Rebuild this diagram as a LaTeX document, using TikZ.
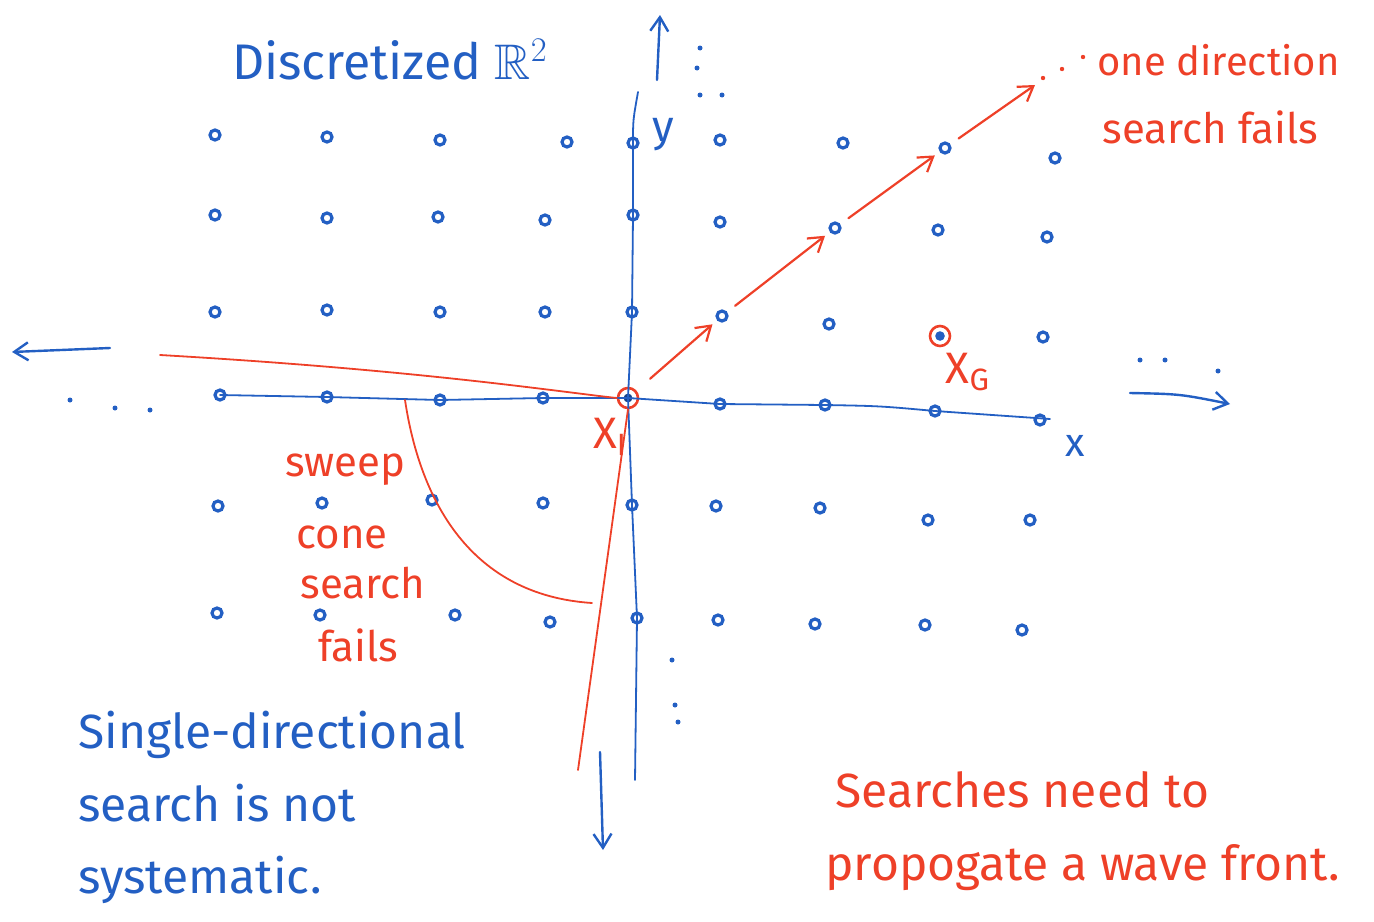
\documentclass[tikz,border=0pt]{standalone}
\usepackage{amssymb}
\usepackage{fontspec}
\setmainfont{Fira Sans}
\usetikzlibrary{arrows.meta}
\definecolor{penblue}{RGB}{35,95,195}
\definecolor{penred}{RGB}{238,64,40}

\begin{document}
\begin{tikzpicture}[x=0.5pt, y=-0.5pt, line cap=round,
    >={Straight Barb[length=7pt,width=9pt]},
    gridpt/.style = {draw=penblue, circle, line width=1.6pt, inner sep=0pt, minimum size=5pt},
    speck/.style = {fill=penblue, circle, inner sep=0pt, minimum size=2.5pt},
    axis/.style = {draw=penblue, line width=0.9pt},
    penarrow/.style = {penblue, line width=1.2pt, ->},
    redline/.style = {draw=penred, line width=0.9pt},
    redarrow/.style = {penred, line width=1.1pt, ->},
    bluetxt/.style = {text=penblue, font=\fontsize{24}{28}\selectfont, anchor=west, inner sep=0pt},
    redtxt/.style = {text=penred, font=\fontsize{21}{25}\selectfont, anchor=west, inner sep=0pt}]
  \useasboundingbox (0,0) rectangle (1374,921);

  % grid of points
  \foreach \n/\x/\y in {d11/215/135, d12/327/137, d13/440/140, d14/567/142, d15/633/143,
      d16/720/140, d17/843/143, d18/945/148, d19/1055/158,
      d21/215/215, d22/327/218, d23/438/217, d24/545/220, d25/633/215,
      d26/720/222, d27/835/228, d28/938/230, d29/1047/237,
      d31/215/312, d32/327/310, d33/440/312, d34/545/312, d35/632/312,
      d36/722/316, d37/829/324, d39/1043/337,
      d41/220/395, d42/327/397, d43/440/400, d44/543/398,
      d46/720/404, d47/825/405, d48/935/411, d49/1040/420,
      d51/218/506, d52/322/503, d53/432/500, d54/543/503, d55/632/505,
      d56/716/506, d57/820/508, d58/928/520, d59/1030/520,
      d61/217/613, d62/320/615, d63/455/615, d64/550/622, d65/637/618,
      d66/718/620, d67/815/624, d68/925/625, d69/1022/630}
    \node[gridpt] (\n) at (\x,\y) {};

  % start and goal
  \node[draw=penred, circle, line width=1.3pt, minimum size=10pt, inner sep=0pt] (xi) at (628,398) {};
  \fill[penblue!70!black] (xi) circle (2.2pt);
  \node[draw=penred, circle, line width=1.3pt, minimum size=10pt, inner sep=0pt] (xg) at (940,336) {};
  \fill[penblue] (xg) circle (2.4pt);

  % axes
  \draw[axis] (d41.center) -- (d42.center) -- (d43.center) -- (d44.center) -- (xi.center)
    -- (d46.center) -- (d47.center) .. controls (880,406) .. (d48.center) -- (1050,419);
  \draw[axis] (638,92) .. controls (633,120) .. (d15.center) -- (d25.center) -- (d35.center)
    -- (xi.center) -- (d55.center) -- (d65.center) -- (635,780);
  \coordinate (upA) at (657,80);   \coordinate (upB) at (660,15);
  \coordinate (dnA) at (600,752);  \coordinate (dnB) at (603,850);
  \coordinate (lfA) at (110,348);  \coordinate (lfB) at (12,352);
  \coordinate (rtA) at (1130,393); \coordinate (rtB) at (1230,404);
  \draw[penarrow] (upA) -- (upB);
  \draw[penarrow] (dnA) -- (dnB);
  \draw[penarrow] (lfA) -- (lfB);
  \draw[penarrow] (rtA) .. controls (1180,394) .. (rtB);

  % continuation dots
  \foreach \n/\x/\y in {s1/700/48, s2/697/68, s3/700/95, s4/722/95,
      s5/70/400, s6/115/408, s7/150/410,
      s8/1140/360, s9/1165/360, s10/1218/371,
      s11/672/660, s12/675/705, s13/678/722}
    \node[speck] (\n) at (\x,\y) {};

  % axis labels
  \node[text=penblue, font=\fontsize{22}{24}\selectfont] (ylab) at (663,135) {y};
  \node[text=penblue, font=\fontsize{20}{24}\selectfont] (xlab) at (1075,446) {x};
  \node[text=penblue, font=\fontsize{25}{28}\selectfont] (title) at (390,60) {Discretized $\mathbb{R}^2$};

  % sweep cone
  \draw[redline] (160,355) .. controls (420,370) and (560,392) .. (xi.west);
  \draw[redline] (xi.south) -- (578,770);
  \draw[redline] (405,400) .. controls (420,500) and (470,595) .. (592,603);
  \node[redtxt, anchor=east] (sweep) at (406,470) {sweep};
  \node[redtxt] (cone) at (296,537) {cone};
  \node[redtxt] (srch) at (300,583) {search};
  \node[redtxt] (fails) at (318,645) {fails};

  % one direction search
  \draw[redarrow, shorten <=9pt, shorten >=3pt] (xi) -- (d36);
  \draw[redarrow, shorten <=5pt, shorten >=3pt] (d36) -- (d27);
  \draw[redarrow, shorten <=5pt, shorten >=3pt] (d27) -- (d18);
  \coordinate (dirEnd) at (1035,85);
  \draw[redarrow, shorten <=5pt] (d18) -- (dirEnd);
  \foreach \n/\x/\y in {r1/1043/78, r2/1062/69, r3/1083/57}
    \fill[penred] (\x,\y) circle (1.1pt);
  \node[redtxt, font=\fontsize{20}{24}\selectfont] (onedir) at (1097,60) {one direction};
  \node[redtxt] (odfail) at (1102,127) {search fails};

  % start / goal labels
  \node[text=penred, font=\fontsize{22}{24}\selectfont] (xilab) at (610,437) {X$_{\mathrm{I}}$};
  \node[text=penred, font=\fontsize{22}{24}\selectfont] (xglab) at (968,372) {X$_{\mathrm{G}}$};

  % notes
  \node[bluetxt] (n1) at (78,735) {Single-directional};
  \node[bluetxt] (n2) at (78,803) {search is not};
  \node[bluetxt] (n3) at (78,880) {systematic.};
  \node[redtxt, font=\fontsize{24}{28}\selectfont] (w1) at (835,790) {Searches need to};
  \node[redtxt, font=\fontsize{24}{28}\selectfont] (w2) at (825,868) {propogate a wave front.};
\end{tikzpicture}
\end{document}
